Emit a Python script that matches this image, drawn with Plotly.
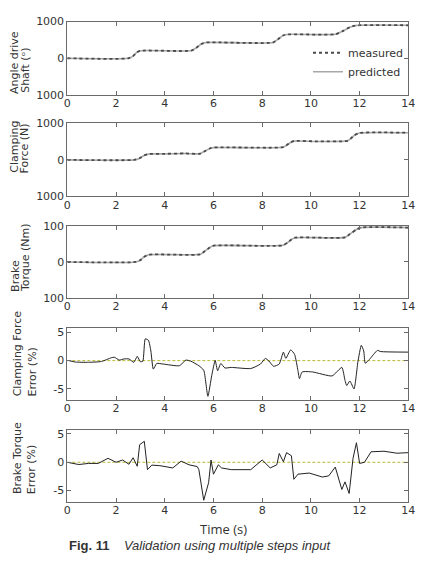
import plotly.graph_objects as go

W, H = 428, 562

# ---------------- data ----------------
time_angle = [0, 2.5, 2.7, 2.85, 3.0, 5.1, 5.3, 5.5, 5.7, 8.45, 8.65, 8.85, 9.0, 11.0, 11.3, 11.6, 11.85, 14]
angle_measured = [0, 0, 60, 160, 205, 210, 290, 390, 430, 432, 520, 620, 650, 655, 740, 850, 895, 900]
angle_predicted = [0, 0, 58, 158, 204, 210, 288, 388, 430, 432, 518, 618, 650, 655, 738, 848, 895, 900]

time_clamp = [0, 2.75, 2.95, 3.15, 3.35, 4.0, 4.8, 5.45, 5.65, 5.85, 6.0, 8.85, 9.0, 9.15, 9.3, 10.2, 11.5, 11.65, 11.8, 12.0, 14]
clamp_measured = [0, 0, 40, 120, 160, 165, 175, 170, 240, 310, 337, 345, 400, 470, 515, 505, 520, 590, 680, 735, 740]
clamp_predicted = [0, 0, 38, 118, 158, 163, 172, 168, 238, 308, 335, 342, 398, 468, 512, 502, 518, 588, 678, 732, 738]

time_torque = [0, 2.8, 3.0, 3.15, 3.35, 5.45, 5.65, 5.85, 6.0, 8.85, 9.05, 9.2, 9.35, 11.4, 11.6, 11.85, 12.05, 14]
torque_measured = [0, 0, 5, 14, 20, 21, 30, 40, 45, 46, 54, 62, 67, 68, 77, 89, 95, 95]
torque_predicted = [0, 0, 5, 14, 20, 21, 30, 40, 45, 46, 54, 62, 67, 68, 77, 89, 95, 95]

time_cf_err = [0.07, 0.33, 0.87, 1.4, 1.8, 1.93, 2.13, 2.33, 2.53, 2.73, 2.87, 3.0, 3.1, 3.2, 3.33,
               3.43, 3.53, 3.67, 3.93, 4.6, 4.87, 5.07, 5.4, 5.6, 5.77, 5.93, 6.07, 6.17, 6.3, 6.47,
               6.73, 7.53, 7.93, 8.13, 8.27, 8.47, 8.7, 8.87, 8.97, 9.17, 9.33, 9.47, 9.53, 9.64,
               10.07, 10.87, 11.27, 11.4, 11.47, 11.6, 11.77, 11.93, 12.07, 12.17, 12.23, 12.4,
               12.73, 12.87, 14.0]
cf_err = [0.0, -0.25, -0.3, -0.15, 0.5, 0.6, 0.1, 0.3, 0.3, -0.3, 0.75, -0.2, -0.1, 3.85, 3.6,
          1.7, -1.5, -0.5, -0.6, -0.9, 0.1, -0.1, -0.9, -1.7, -6.3, -2.6, 0.05, -1.8, -0.5, -1.3,
          -1.2, -1.4, -0.6, 0.4, -0.05, -1.0, -0.6, 1.5, 0.4, 1.9, 1.1, -1.8, -3.2, -2.0,
          -2.0, -2.7, -1.2, -3.5, -4.4, -3.6, -5.0, -0.2, 2.7, 1.7, -0.45, 0.2,
          1.8, 1.6, 1.5]

time_bt_err = [0, 0.47, 0.87, 1.27, 1.67, 2.0, 2.27, 2.53, 2.7, 2.87, 2.97, 3.16, 3.29, 3.47, 3.8,
               4.33, 4.67, 5.0, 5.33, 5.4, 5.6, 5.8, 5.9, 6.0, 6.2, 6.33, 6.73, 7.53, 8.0, 8.33,
               8.6, 8.7, 8.87, 9.0, 9.2, 9.3, 9.47, 9.93, 10.47, 10.73, 11.0, 11.27, 11.4, 11.57,
               11.73, 11.87, 12.0, 12.2, 12.47, 13.0, 13.53, 14.0]
bt_err = [0, -0.4, -0.2, -0.2, 0.7, 0, 0.4, -0.35, 0.8, -0.7, 3.1, 3.7, -1.3, -0.5, -0.6,
          -1.0, 0.2, -0.45, -0.75, -1.3, -6.7, -3.6, 0.4, -2.1, -0.45, -1.0, -1.3, -1.3, 0.4, -1.0,
          -0.45, 1.55, 0.1, 1.7, 1.15, -3.0, -2.1, -1.9, -2.6, -2.4, -0.85, -4.8, -3.45, -5.5,
          0.7, 3.45, -0.2, 0.0, 1.85, 1.95, 1.6, 1.7]

x_ticks = [0, 2, 4, 6, 8, 10, 12, 14]

# ---------------- layout helpers ----------------
FONT = "DejaVu Sans, sans-serif"
FS = 11
X0, X1 = 65, 415
panels = [(16, 91), (120, 195), (225, 299), (330, 403), (434, 508)]


def ydom(top, bot):
    return [1 - bot / H, 1 - top / H]


fig = go.Figure()

step_sets = [
    (time_angle, angle_measured, angle_predicted),
    (time_clamp, clamp_measured, clamp_predicted),
    (time_torque, torque_measured, torque_predicted),
]
for i, (t, meas, pred) in enumerate(step_sets):
    ax = "" if i == 0 else str(i + 1)
    fig.add_trace(go.Scatter(x=t, y=pred, mode="lines", name="predicted",
                             line=dict(color="#a8a8a8", width=1.6, shape="spline", smoothing=0.6),
                             xaxis="x" + ax, yaxis="y" + ax, showlegend=(i == 0), legendrank=2))
    fig.add_trace(go.Scatter(x=t, y=meas, mode="lines", name="measured",
                             line=dict(color="#4a4a4a", width=1.8, dash="dot", shape="spline", smoothing=0.6),
                             xaxis="x" + ax, yaxis="y" + ax, showlegend=(i == 0), legendrank=1))

err_shapes = ["spline", "linear"]
for i, (t, e) in enumerate([(time_cf_err, cf_err), (time_bt_err, bt_err)]):
    ax = str(i + 4)
    fig.add_trace(go.Scatter(x=[0, 14], y=[0, 0], mode="lines", showlegend=False,
                             line=dict(color="#b9b832", width=1, dash="3px,2px"),
                             xaxis="x" + ax, yaxis="y" + ax))
    fig.add_trace(go.Scatter(x=t, y=e, mode="lines", showlegend=False,
                             line=dict(color="#222222", width=1, shape=err_shapes[i], smoothing=0.5),
                             xaxis="x" + ax, yaxis="y" + ax))

axis_common = dict(showline=True, mirror="ticks", linecolor="#6a6a6a", linewidth=1,
                   ticks="inside", ticklen=4, tickcolor="#6a6a6a", showgrid=False,
                   zeroline=False, tickfont=dict(family=FONT, size=FS, color="#333333"))

y_ranges = [[-1000, 1000], [-1000, 1000], [-100, 100], [-6.9, 5.7], [-7.05, 5.7]]
y_tickvals = [[-1000, 0, 1000], [-1000, 0, 1000], [-100, 0, 100], [-5, 0, 5], [-5, 0, 5]]
y_ticktext = [["1000", "0", "1000"], ["1000", "0", "1000"], ["100", "0", "100"],
              ["-5", "0", "5"], ["-5", "0", "5"]]

layout = dict(width=W, height=H, margin=dict(l=0, r=0, t=0, b=0),
              paper_bgcolor="white", plot_bgcolor="white", showlegend=True,
              legend=dict(x=312 / W, y=1 - 33 / H, xanchor="left", yanchor="top",
                          bgcolor="rgba(0,0,0,0)", font=dict(family=FONT, size=FS, color="#333333"),
                          tracegroupgap=0, itemwidth=30))
for i, (top, bot) in enumerate(panels):
    ax = "" if i == 0 else str(i + 1)
    layout["xaxis" + ax] = dict(domain=[X0 / W, X1 / W], range=[0, 14], tickvals=x_ticks,
                                anchor="y" + ax, ticklabelstandoff=-2, **axis_common)
    layout["yaxis" + ax] = dict(domain=ydom(top, bot), range=y_ranges[i], tickvals=y_tickvals[i],
                                ticktext=y_ticktext[i], anchor="x" + ax, **axis_common)
fig.update_layout(**layout)

ylabels = [
    ("Angle drive", 11, 92), ("Shaft (ᵒ)", 22, 91),
    ("Clamping", 11, 173), ("Force (N)", 22, 173),
    ("Brake", 11, 295), ("Torque (Nm)", 22, 295),
    ("Clamping Force", 14, 402), ("Error (%)", 29, 402),
    ("Brake Torque", 14, 502), ("Error (%)", 29, 502),
]
for txt, xp, yb in ylabels:
    fig.add_annotation(text=txt, x=xp / W, y=1 - yb / H, xref="paper", yref="paper",
                       xanchor="center", yanchor="bottom", textangle=-90, showarrow=False,
                       font=dict(family=FONT, size=FS, color="#333333"))

fig.add_annotation(text="Time (s)", x=225 / W, y=1 - 535 / H, xref="paper", yref="paper",
                   xanchor="center", yanchor="middle", showarrow=False,
                   font=dict(family="Open Sans, sans-serif", size=13, color="#333333"))

fig.add_annotation(text="<b>Fig. 11</b>    <i>Validation using multiple steps input</i>",
                   x=65 / W, y=0, xref="paper", yref="paper",
                   xanchor="left", yanchor="bottom", showarrow=False,
                   font=dict(family="Liberation Sans, Arial, sans-serif", size=13, color="#333333"))

fig.write_html("out.html")
